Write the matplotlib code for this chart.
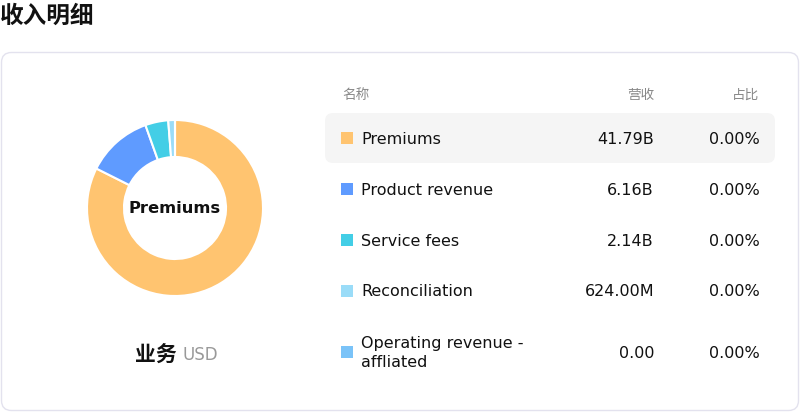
import matplotlib.pyplot as plt
from matplotlib.patches import FancyBboxPatch, Rectangle

# data
names = ['Premiums', 'Product revenue', 'Service fees', 'Reconciliation', 'Operating revenue -\naffliated']
revenue = [41.79e9, 6.16e9, 2.14e9, 624.00e6, 0.0]
rev_labels = ['41.79B', '6.16B', '2.14B', '624.00M', '0.00']
share_labels = ['0.00%', '0.00%', '0.00%', '0.00%', '0.00%']
colors = ['#FFC470', '#5F9BFF', '#43CEE6', '#9ADCF8', '#7AC3F8']
headers = ['名称', '营收', '占比']

cjk = ['Noto Sans CJK SC', 'DejaVu Sans']
lat = ['DejaVu Sans', 'Noto Sans CJK SC']
fs = 11.5

fig = plt.figure(figsize=(8, 4.12), dpi=100)
bg = fig.add_axes([0, 0, 1, 1])
bg.set_xlim(0, 800)
bg.set_ylim(412, 0)
bg.axis('off')

# title
bg.text(0, 16, '收入明细', fontsize=17, fontweight='bold', family=cjk, va='center', ha='left', color='#111111')

# card
card = FancyBboxPatch((1.5, 52.5), 797, 358, boxstyle='round,pad=0,rounding_size=10',
                      fc='white', ec='#E3E2EE', lw=1)
bg.add_patch(card)

# highlighted first row
hl = FancyBboxPatch((325, 113), 450, 50, boxstyle='round,pad=0,rounding_size=8',
                    fc='#F5F5F5', ec='none')
bg.add_patch(hl)

# table header
bg.text(342, 95, headers[0], fontsize=9.8, color='#888888', family=cjk, va='center', ha='left')
bg.text(654, 95, headers[1], fontsize=9.8, color='#888888', family=cjk, va='center', ha='right')
bg.text(759, 95, headers[2], fontsize=9.8, color='#888888', family=cjk, va='center', ha='right')

row_y = [139, 190, 241, 292, 353]
for i, name in enumerate(names):
    y = row_y[i]
    bg.add_patch(Rectangle((341, y - 7), 12, 12, fc=colors[i], ec='none'))
    bg.text(361, y, name, fontsize=fs, family=lat, va='center', ha='left', color='#111111',
            linespacing=1.3)
    bg.text(654, y, rev_labels[i], fontsize=fs, family=lat, va='center', ha='right', color='#111111')
    bg.text(760, y, share_labels[i], fontsize=fs, family=lat, va='center', ha='right', color='#111111')

# bottom label
bg.text(135, 354, '业务', fontsize=15, fontweight='bold', family=cjk, va='center', ha='left', color='#111111')
bg.text(182, 355, 'USD', fontsize=12, family=lat, va='center', ha='left', color='#999999')

# donut
cx, cy, r = 175, 208, 88
pax = fig.add_axes([(cx - r) / 800, (412 - cy - r) / 412, 2 * r / 800, 2 * r / 412])
pax.pie(revenue, colors=colors, startangle=90, counterclock=False, radius=1,
        wedgeprops=dict(width=(88 - 51) / 88, edgecolor='white', linewidth=1.5))
pax.set_xlim(-1, 1)
pax.set_ylim(-1, 1)
pax.set_aspect('equal')
pax.text(0, 0, names[0], fontsize=11.8, fontweight='bold', family=lat, ha='center', va='center', color='#111111')

fig.savefig('out.png', dpi=100)
